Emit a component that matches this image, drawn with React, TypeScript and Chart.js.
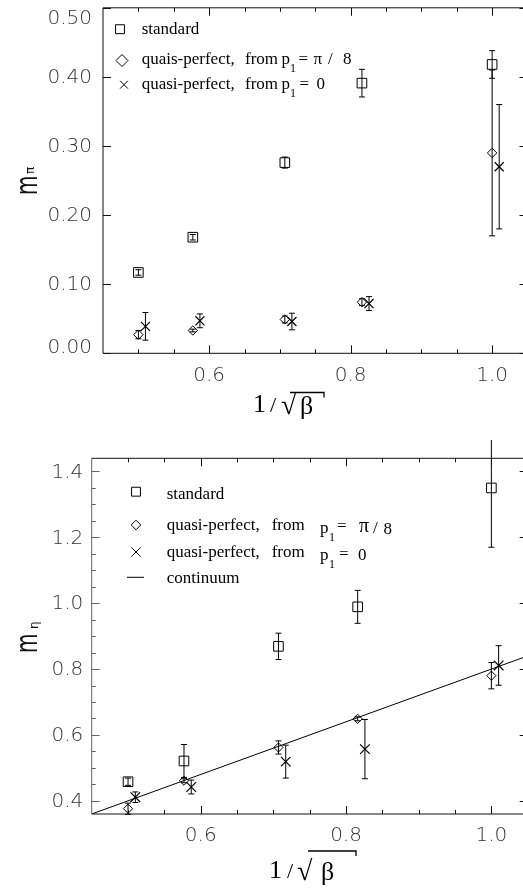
import React, { useEffect, useRef } from 'react';
import { Chart, registerables } from 'chart.js';
Chart.register(...registerables);

// ---------- data ----------
const xBeta = [0.5, 0.577, 0.707, 0.816, 1.0];
const xBetaShift = [0.51, 0.587, 0.717, 0.826, 1.01];

// m_pi panel
const piStandard = [0.117, 0.168, 0.276, 0.391, 0.418];
const piStandardErr = [0.004, 0.004, 0.008, 0.02, 0.02];
const piQuasiPi8 = [0.027, 0.033, 0.049, 0.074, 0.29];
const piQuasiPi8Err = [0.006, 0.002, 0.005, 0.005, 0.12];
const piQuasi0 = [0.039, 0.047, 0.046, 0.072, 0.27];
const piQuasi0Err = [0.02, 0.01, 0.012, 0.01, 0.09];

// m_eta panel
const etaStandard = [0.458, 0.521, 0.869, 0.989, 1.35];
const etaStandardErr = [0.011, 0.05, 0.04, 0.05, 0.18];
const etaQuasiPi8 = [0.376, 0.461, 0.562, 0.649, 0.78];
const etaQuasiPi8Err = [0.017, 0.006, 0.02, 0.006, 0.04];
const etaQuasi0 = [0.411, 0.442, 0.519, 0.557, 0.811];
const etaQuasi0Err = [0.016, 0.021, 0.05, 0.09, 0.06];

// continuum line
const contX = [0.45, 1.05];
const contY = [0.36, 0.84];

// ticks
const xMajor = [0.6, 0.8, 1.0];
const xMinor = [0.5, 0.55, 0.65, 0.7, 0.75, 0.85, 0.9, 0.95];
const piYMajor = [0.0, 0.1, 0.2, 0.3, 0.4, 0.5];
const etaYMajor = [0.4, 0.6, 0.8, 1.0, 1.2, 1.4];
const etaYMinor = [0.45, 0.5, 0.55, 0.65, 0.7, 0.75, 0.85, 0.9, 0.95, 1.05, 1.1, 1.15, 1.25, 1.3, 1.35];

// ---------- drawing helpers ----------
const SERIF = '"Liberation Serif", "Times New Roman", serif';
const SANS = '"DejaVu Sans", sans-serif';

type Part = { t: string; x?: number; sub?: boolean; dy?: number; size?: number };
type Row = { sym: 'rect' | 'diamond' | 'cross' | 'line'; sx: number; sy: number; r: number; ty: number; parts: Part[] };

function drawSym(ctx: CanvasRenderingContext2D, sym: string, x: number, y: number, r: number) {
  ctx.beginPath();
  if (sym === 'rect') {
    const h = r * Math.SQRT1_2;
    ctx.rect(x - h, y - h, 2 * h, 2 * h);
  } else if (sym === 'diamond') {
    ctx.moveTo(x - r, y);
    ctx.lineTo(x, y - r);
    ctx.lineTo(x + r, y);
    ctx.lineTo(x, y + r);
    ctx.closePath();
  } else if (sym === 'cross') {
    const h = r * Math.SQRT1_2;
    ctx.moveTo(x - h, y - h);
    ctx.lineTo(x + h, y + h);
    ctx.moveTo(x - h, y + h);
    ctx.lineTo(x + h, y - h);
  } else {
    ctx.moveTo(x - r, y);
    ctx.lineTo(x + r, y);
  }
  ctx.stroke();
}

type Spec = {
  errs: number[][];
  yMajor: number[];
  yMinor: number[];
  yDecimals: number;
  labelGap: number;
  leftAxisColor: string;
  legend: Row[];
  yTitle: { main: string; sub: string; bx: number; by: number; subX: number; subY: number };
  xTitle: { oneX: number; slashX: number; rootX: number; betaX: number; base: number; barX0: number; barX1: number; barY: number; size: number };
};

function makePlugin(spec: Spec) {
  return {
    id: 'physDecor',
    afterDatasetsDraw(chart: any) {
      const ctx: CanvasRenderingContext2D = chart.ctx;
      const xs = chart.scales.x;
      const ys = chart.scales.y;
      ctx.save();
      ctx.strokeStyle = '#000';
      ctx.lineWidth = 1;
      spec.errs.forEach((err, di) => {
        const ds = chart.data.datasets[di];
        ds.data.forEach((p: any, i: number) => {
          const px = xs.getPixelForValue(p.x);
          const y0 = ys.getPixelForValue(p.y - err[i]);
          const y1 = ys.getPixelForValue(p.y + err[i]);
          ctx.beginPath();
          ctx.moveTo(px, y0);
          ctx.lineTo(px, y1);
          ctx.moveTo(px - 3, y0);
          ctx.lineTo(px + 3, y0);
          ctx.moveTo(px - 3, y1);
          ctx.lineTo(px + 3, y1);
          ctx.stroke();
        });
      });
      ctx.restore();
    },
    afterDraw(chart: any) {
      const ctx: CanvasRenderingContext2D = chart.ctx;
      const a = chart.chartArea;
      const xs = chart.scales.x;
      const ys = chart.scales.y;
      ctx.save();
      ctx.lineWidth = 1;
      // frame
      ctx.strokeStyle = '#111';
      ctx.beginPath();
      ctx.moveTo(a.left, a.top);
      ctx.lineTo(a.right, a.top);
      ctx.lineTo(a.right, a.bottom);
      ctx.lineTo(a.left, a.bottom);
      ctx.stroke();
      ctx.strokeStyle = spec.leftAxisColor;
      ctx.beginPath();
      ctx.moveTo(a.left, a.top);
      ctx.lineTo(a.left, a.bottom);
      ctx.stroke();
      // x ticks (inward, bottom and top)
      ctx.strokeStyle = '#111';
      const xt = (v: number, len: number) => {
        const px = Math.round(xs.getPixelForValue(v)) + 0.5;
        ctx.beginPath();
        ctx.moveTo(px, a.bottom);
        ctx.lineTo(px, a.bottom - len);
        ctx.moveTo(px, a.top);
        ctx.lineTo(px, a.top + len);
        ctx.stroke();
      };
      xMajor.forEach((v) => xt(v, 8));
      xMinor.forEach((v) => xt(v, 4));
      const yt = (v: number, len: number) => {
        const py = Math.round(ys.getPixelForValue(v)) + 0.5;
        ctx.strokeStyle = spec.leftAxisColor;
        ctx.beginPath();
        ctx.moveTo(a.left, py);
        ctx.lineTo(a.left + len, py);
        ctx.stroke();
        ctx.strokeStyle = '#111';
        ctx.beginPath();
        ctx.moveTo(a.right, py);
        ctx.lineTo(a.right - len, py);
        ctx.stroke();
      };
      spec.yMajor.forEach((v) => yt(v, 8));
      spec.yMinor.forEach((v) => yt(v, 4));
      // y tick labels (kept inside the axis span, as in the original)
      ctx.fillStyle = '#333';
      ctx.font = `200 20px ${SANS}`;
      ctx.textAlign = 'right';
      ctx.textBaseline = 'middle';
      spec.yMajor.forEach((v) => {
        let py = ys.getPixelForValue(v);
        py = Math.max(a.top + 10, Math.min(a.bottom - 7, py));
        ctx.fillText(v.toFixed(spec.yDecimals), a.left - spec.labelGap, py + 1);
      });
      // legend
      ctx.strokeStyle = '#000';
      ctx.fillStyle = '#000';
      ctx.textAlign = 'left';
      ctx.textBaseline = 'alphabetic';
      spec.legend.forEach((row) => {
        drawSym(ctx, row.sym, row.sx, row.sy, row.r);
        let x = 0;
        row.parts.forEach((p) => {
          if (p.x !== undefined) x = p.x;
          const size = p.size ?? (p.sub ? 12 : 17);
          ctx.font = `${size}px ${SERIF}`;
          const y = row.ty + (p.dy ?? 0) + (p.sub ? 8 : 0);
          ctx.fillText(p.t, x, y);
          x += ctx.measureText(p.t).width;
        });
      });
      // y title
      const yt2 = spec.yTitle;
      ctx.fillStyle = '#111';
      ctx.save();
      ctx.translate(yt2.bx, yt2.by);
      ctx.rotate(-Math.PI / 2);
      ctx.scale(1, 1.55);
      ctx.font = `400 20px ${SANS}`;
      ctx.textAlign = 'left';
      ctx.fillText(yt2.main, 0, 0);
      ctx.restore();
      ctx.save();
      ctx.translate(yt2.subX, yt2.subY);
      ctx.rotate(-Math.PI / 2);
      ctx.font = `12px ${SANS}`;
      ctx.textAlign = 'left';
      ctx.fillText(yt2.sub, 0, 0);
      ctx.restore();
      // x title 1 / sqrt(beta)
      const t = spec.xTitle;
      ctx.fillStyle = '#000';
      ctx.font = `${t.size}px ${SERIF}`;
      ctx.fillText('1', t.oneX, t.base);
      ctx.font = `${t.size - 4}px ${SERIF}`;
      ctx.fillText('/', t.slashX, t.base);
      ctx.font = `${t.size + 2}px ${SERIF}`;
      ctx.fillText('√', t.rootX, t.base + 2);
      ctx.font = `${t.size}px ${SERIF}`;
      ctx.fillText('β', t.betaX, t.base + 2);
      ctx.strokeStyle = '#000';
      ctx.lineWidth = 1.3;
      ctx.beginPath();
      ctx.moveTo(t.barX0, t.barY);
      ctx.lineTo(t.barX1, t.barY);
      ctx.lineTo(t.barX1, t.barY + 5);
      ctx.stroke();
      ctx.restore();
    },
  };
}

function pts(xs: number[], ys: number[]) {
  return xs.map((x, i) => ({ x, y: ys[i] }));
}

function buildConfig(opts: {
  std: number[]; pi8: number[]; zero: number[];
  yMin: number; yMax: number; yMajor: number[];
  padTop: number; padRight: number; yWidth: number; xHeight: number;
  rStd: number; rDia: number; rCross: number; withLine: boolean; spec: Spec;
}) {
  const datasets: any[] = [
    { type: 'scatter', label: 'standard', data: pts(xBeta, opts.std), pointStyle: 'rect', pointRadius: opts.rStd, borderColor: '#000', backgroundColor: 'rgba(0,0,0,0)', borderWidth: 1, clip: false },
    { type: 'scatter', label: 'quasi-perfect pi/8', data: pts(xBeta, opts.pi8), pointStyle: 'rectRot', pointRadius: opts.rDia, borderColor: '#000', backgroundColor: 'rgba(0,0,0,0)', borderWidth: 1, clip: false },
    { type: 'scatter', label: 'quasi-perfect 0', data: pts(xBetaShift, opts.zero), pointStyle: 'crossRot', pointRadius: opts.rCross, borderColor: '#000', backgroundColor: 'rgba(0,0,0,0)', borderWidth: 1.2, clip: false },
  ];
  if (opts.withLine) {
    datasets.push({ type: 'line', label: 'continuum', data: pts(contX, contY), borderColor: '#000', borderWidth: 1, pointRadius: 0, fill: false, tension: 0 });
  }
  return {
    type: 'scatter',
    data: { datasets },
    options: {
      animation: false,
      responsive: false,
      devicePixelRatio: 1,
      layout: { padding: { top: opts.padTop, right: opts.padRight, left: 0, bottom: 0 } },
      plugins: { legend: { display: false }, tooltip: { enabled: false } },
      events: [],
      scales: {
        x: {
          type: 'linear',
          min: 0.45,
          max: 1.05,
          afterBuildTicks: (s: any) => { s.ticks = xMajor.map((v) => ({ value: v })); },
          afterFit: (s: any) => { s.height = opts.xHeight; },
          grid: { display: false, drawTicks: false },
          border: { display: false },
          ticks: {
            autoSkip: false,
            maxRotation: 0,
            padding: 10,
            color: '#333',
            font: { family: 'DejaVu Sans', size: 20, weight: '200' },
            callback: (v: any) => Number(v).toFixed(1),
          },
        },
        y: {
          type: 'linear',
          min: opts.yMin,
          max: opts.yMax,
          afterBuildTicks: (s: any) => { s.ticks = opts.yMajor.map((v) => ({ value: v })); },
          afterFit: (s: any) => { s.width = opts.yWidth; },
          grid: { display: false, drawTicks: false },
          border: { display: false },
          ticks: { display: false },
        },
      },
    },
    plugins: [makePlugin(opts.spec)],
  };
}

const CW = 540;

function Panel(props: { top: number; height: number; config: any }) {
  const ref = useRef<HTMLCanvasElement | null>(null);
  useEffect(() => {
    if (!ref.current) return;
    const chart = new Chart(ref.current, props.config);
    return () => chart.destroy();
  }, []);
  return (
    <canvas
      ref={ref}
      width={CW}
      height={props.height}
      style={{ position: 'absolute', left: 0, top: props.top, width: CW, height: props.height }}
    />
  );
}

const topSpec: Spec = {
  errs: [piStandardErr, piQuasiPi8Err, piQuasi0Err],
  yMajor: piYMajor,
  yMinor: [],
  yDecimals: 2,
  labelGap: 11,
  leftAxisColor: '#111',
  legend: [
    { sym: 'rect', sx: 120, sy: 29.2, r: 6.3, ty: 33.5, parts: [{ t: 'standard', x: 141.7 }] },
    {
      sym: 'diamond', sx: 122, sy: 60.5, r: 6, ty: 64,
      parts: [
        { t: 'quais-perfect,', x: 141.7 }, { t: 'from', x: 245 }, { t: 'p', x: 281.5 },
        { t: '1', sub: true, x: 290 }, { t: '=', x: 298.5 }, { t: 'π', x: 313.5 }, { t: '/', x: 328 }, { t: '8', x: 343 },
      ],
    },
    {
      sym: 'cross', sx: 124, sy: 84.7, r: 5.5, ty: 89,
      parts: [
        { t: 'quasi-perfect,', x: 141.7 }, { t: 'from', x: 245 }, { t: 'p', x: 281.5 },
        { t: '1', sub: true, x: 290 }, { t: '=', x: 299.5 }, { t: '0', x: 316.5 },
      ],
    },
  ],
  yTitle: { main: 'm', sub: 'π', bx: 36.5, by: 195, subX: 33.5, subY: 174 },
  xTitle: { oneX: 253, slashX: 270, rootX: 281, betaX: 300, base: 411.5, barX0: 290, barX1: 324, barY: 392.5, size: 26 },
};

const botSpec: Spec = {
  errs: [etaStandardErr, etaQuasiPi8Err, etaQuasi0Err],
  yMajor: etaYMajor,
  yMinor: etaYMinor,
  yDecimals: 1,
  labelGap: 8.4,
  leftAxisColor: '#666',
  legend: [
    { sym: 'rect', sx: 136, sy: 51.7, r: 6.3, ty: 58.5, parts: [{ t: 'standard', x: 166.7 }] },
    {
      sym: 'diamond', sx: 136, sy: 85, r: 4.8, ty: 89.5,
      parts: [
        { t: 'quasi-perfect,', x: 166.7 }, { t: 'from', x: 271.7 }, { t: 'p', x: 320, dy: 3 },
        { t: '1', sub: true, x: 329, dy: 3 }, { t: '=', x: 337, dy: 1 }, { t: 'π', x: 359, dy: 2, size: 20 }, { t: '/', x: 373, dy: 3 }, { t: '8', x: 383.5, dy: 4 },
      ],
    },
    {
      sym: 'cross', sx: 136, sy: 112, r: 6.5, ty: 116.5,
      parts: [
        { t: 'quasi-perfect,', x: 166.7 }, { t: 'from', x: 271.7 }, { t: 'p', x: 320, dy: 3 },
        { t: '1', sub: true, x: 329, dy: 3 }, { t: '=', x: 339, dy: 2 }, { t: '0', x: 358, dy: 3.5 },
      ],
    },
    { sym: 'line', sx: 135.5, sy: 137.3, r: 8.5, ty: 142.5, parts: [{ t: 'continuum', x: 166.7 }] },
  ],
  yTitle: { main: 'm', sub: 'η', bx: 36.5, by: 213, subX: 37.5, subY: 189 },
  xTitle: { oneX: 269, slashX: 287, rootX: 297, betaX: 321, base: 438, barX0: 308, barX1: 356, barY: 411, size: 26 },
};

const topConfig = buildConfig({
  std: piStandard, pi8: piQuasiPi8, zero: piQuasi0,
  yMin: 0, yMax: 0.5, yMajor: piYMajor,
  padTop: 6, padRight: CW - 527.5, yWidth: 103, xHeight: 430 - 353.3,
  rStd: 6.8, rDia: 4.7, rCross: 6.4, withLine: false, spec: topSpec,
});

const botConfig = buildConfig({
  std: etaStandard, pi8: etaQuasiPi8, zero: etaQuasi0,
  yMin: 0.36, yMax: 1.44, yMajor: etaYMajor,
  padTop: 18.3, padRight: CW - 527.7, yWidth: 91.7, xHeight: 453 - 374,
  rStd: 6.8, rDia: 4.6, rCross: 6.8, withLine: true, spec: botSpec,
});

export default function App() {
  return (
    <div style={{ position: 'absolute', left: 0, top: 0, width: 523, height: 893, overflow: 'hidden', background: '#fff' }}>
      <Panel top={0} height={430} config={topConfig} />
      <Panel top={440} height={453} config={botConfig} />
    </div>
  );
}
